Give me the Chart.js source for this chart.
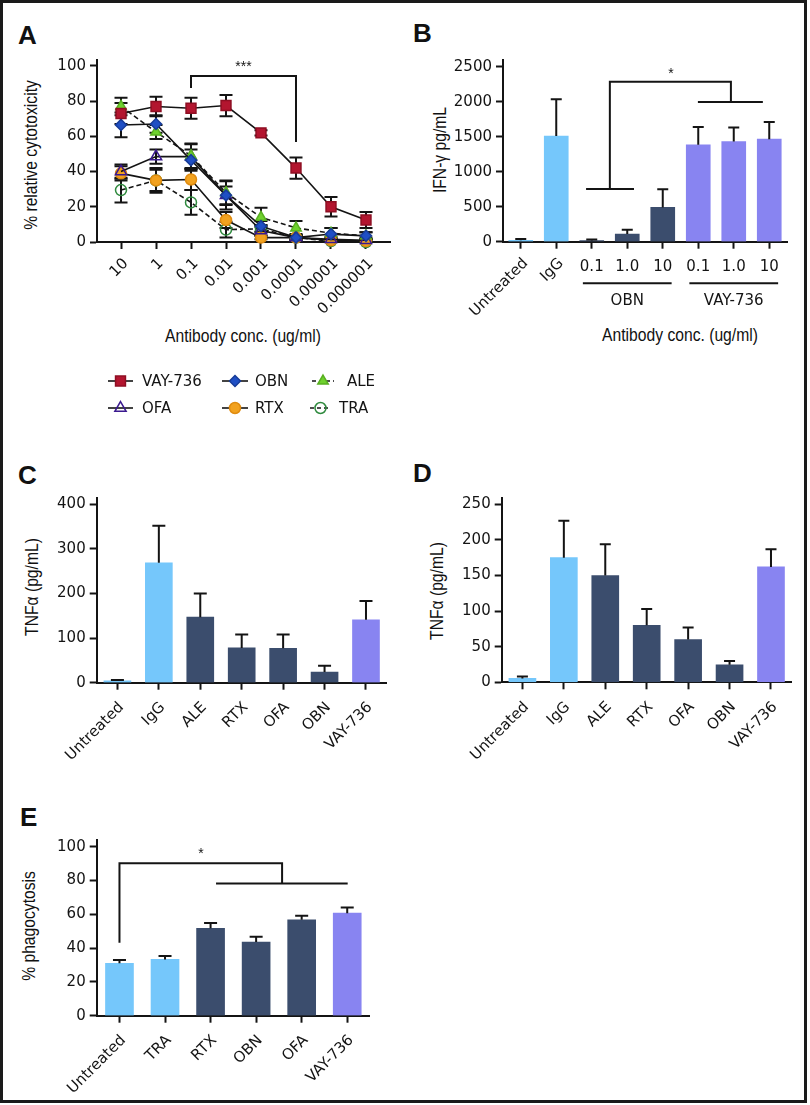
<!DOCTYPE html>
<html>
<head>
<meta charset="utf-8">
<script src="https://cdn.jsdelivr.net/npm/chart.js@4.4.0/dist/chart.umd.min.js"></script>
<style>
  html, body { margin: 0; padding: 0; background: #fff; }
  #page { position: relative; width: 810px; height: 1105px; overflow: hidden; background: #fff; }
  #frame { position: absolute; left: 0; top: 0; width: 801px; height: 1097px; border: 3px solid #1a1a1a; }
  canvas { position: absolute; left: 0; top: 0; }
  .letter { position: absolute; font: bold 26px Arial, "Liberation Sans", sans-serif; line-height: 26px; color: #111; }
  .title { position: absolute; font: 18px Arial, "Liberation Sans", sans-serif; line-height: 20px; white-space: nowrap; color: #111; }
  .xt { transform: translate(-50%, -50%) scaleX(0.87); }
  .yt { transform: translate(-50%, -50%) rotate(-90deg) scaleX(0.87); }
</style>
</head>
<body>
<div id="page">
  <div id="frame"></div>

  <div class="letter" style="left:18px;top:22px">A</div>
  <div class="letter" style="left:413px;top:20px">B</div>
  <div class="letter" style="left:18px;top:462px">C</div>
  <div class="letter" style="left:413px;top:460px">D</div>
  <div class="letter" style="left:20px;top:804px">E</div>

  <div class="title yt" style="left:31px;top:155px">% relative cytotoxicity</div>
  <div class="title xt" style="left:243px;top:336px">Antibody conc. (ug/ml)</div>
  <div class="title yt" style="left:440px;top:150px">IFN-γ pg/mL</div>
  <div class="title xt" style="left:680px;top:335px">Antibody conc. (ug/ml)</div>
  <div class="title yt" style="left:32px;top:587px">TNFα (pg/mL)</div>
  <div class="title yt" style="left:437px;top:591px">TNFα (pg/mL)</div>
  <div class="title yt" style="left:29px;top:926px">% phagocytosis</div>
</div>

<script>
// ---- panel A: cytotoxicity vs antibody concentration ----
const concLabels = ['10', '1', '0.1', '0.01', '0.001', '0.0001', '0.00001', '0.000001'];
const cytoTicks = [0, 20, 40, 60, 80, 100];
const vay736 = [73, 77, 76, 77.5, 62, 42, 20, 12.5];
const vay736Err = [6, 5.5, 6, 6, 1.5, 6, 5.5, 4.5];
const obn = [66.5, 67, 46.5, 26.5, 9, 2.5, 4.5, 3.5];
const obnErr = [7, 5, 6, 5, 3, 2, 3.5, 2];
const ale = [77, 62.5, 49, 28, 14, 8, 5, 3.5];
const aleErr = [5, 4, 7, 7, 5.5, 4, 3, 2];
const ofa = [40, 48.5, 48.5, 26.5, 6.5, 2.5, 1.5, 1];
const ofaErr = [4, 4, 7, 8, 3, 1.5, 1.5, 1.5];
const rtx = [39, 35, 35.5, 12.5, 2.5, 2.5, 1, 0.5];
const rtxErr = [4, 6, 6, 4.5, 1, 1, 1, 1];
const tra = [29.5, 35, 22.5, 7, 7.5, 2.5, 0.5, 0];
const traErr = [7, 7, 7, 4.5, 2, 1, 1, 1];

// ---- panel B: IFN-gamma ----
const ifnLabels = ['Untreated', 'IgG', '0.1', '1.0', '10', '0.1', '1.0', '10'];
const ifnTicks = [0, 500, 1000, 1500, 2000, 2500];
const ifnValues = [20, 1510, 15, 110, 490, 1385, 1430, 1465];
const ifnErrors = [20, 525, 15, 60, 260, 255, 200, 245];
const ifnGroups = [
    { name: 'OBN', first: 2, last: 4 },
    { name: 'VAY-736', first: 5, last: 7 }
];

// ---- panels C and D: TNF-alpha ----
const tnfLabels = ['Untreated', 'IgG', 'ALE', 'RTX', 'OFA', 'OBN', 'VAY-736'];
const tnfCTicks = [0, 100, 200, 300, 400];
const tnfC = [4, 269, 147, 78, 77, 24, 141];
const tnfCErr = [2, 83, 53, 30, 31, 14, 42];
const tnfDTicks = [0, 50, 100, 150, 200, 250];
const tnfD = [5.5, 175, 150, 80, 60, 24.5, 162];
const tnfDErr = [2.5, 52, 44, 23, 17, 5.5, 25];

// ---- panel E: phagocytosis ----
const phagoLabels = ['Untreated', 'TRA', 'RTX', 'OBN', 'OFA', 'VAY-736'];
const phagoTicks = [0, 20, 40, 60, 80, 100];
const phago = [31, 33.3, 51.7, 43.6, 56.8, 60.7];
const phagoErr = [2, 2, 3.2, 3.2, 2.4, 3.4];

// colours
const INK = '#141414';
const LIGHT = '#75c7fb';
const NAVY = '#3b4d6d';
const PURPLE = '#8884f1';

const PAGE_W = 810, PAGE_H = 1105, XH = 80;

Chart.defaults.font.family = "'DejaVu Sans', sans-serif";
Chart.defaults.font.size = 15;
Chart.defaults.color = INK;

function makeCanvas() {
    const c = document.createElement('canvas');
    c.width = PAGE_W;
    c.height = PAGE_H;
    document.getElementById('page').appendChild(c);
    return c;
}

// place the plot area exactly where it sits in the figure
function layoutFor(area) {
    return {
        autoPadding: false,
        padding: { left: 0, top: area.top, right: PAGE_W - area.right, bottom: PAGE_H - area.bottom - XH }
    };
}

function yAxis(area, max, tickValues) {
    return {
        type: 'linear', min: 0, max: max,
        afterFit: s => { s.width = area.left; },
        afterBuildTicks: s => { s.ticks = tickValues.map(v => ({ value: v })); },
        border: { display: true, color: INK, width: 2 },
        grid: { display: true, drawOnChartArea: false, drawTicks: true, tickLength: 7, tickWidth: 2, tickColor: INK },
        ticks: { padding: 4, color: INK, callback: v => String(v) }
    };
}

function xCategory() {
    return {
        type: 'category', offset: true,
        afterFit: s => { s.height = XH; },
        border: { display: true, color: INK, width: 2 },
        grid: { display: true, offset: false, drawOnChartArea: false, drawTicks: true, tickLength: 7, tickWidth: 2, tickColor: INK },
        ticks: { minRotation: 45, maxRotation: 45, autoSkip: false, padding: 9, labelOffset: 4, color: INK }
    };
}

function baseOptions(area) {
    return {
        responsive: false, animation: false, devicePixelRatio: 1,
        layout: layoutFor(area),
        plugins: { legend: { display: false }, tooltip: { enabled: false } }
    };
}

// vertical error bars, read from dataset.errors
function errorBars(cfg) {
    function draw(chart) {
        const ctx = chart.ctx, y = chart.scales.y;
        chart.data.datasets.forEach((ds, di) => {
            if (!ds.errors) return;
            const meta = chart.getDatasetMeta(di);
            meta.data.forEach((el, i) => {
                const v = meta._parsed[i].y, e = ds.errors[i];
                const yTop = y.getPixelForValue(v + e);
                const yBot = cfg.both ? y.getPixelForValue(Math.max(0, v - e)) : el.y;
                ctx.save();
                ctx.strokeStyle = INK;
                ctx.lineWidth = cfg.width;
                ctx.beginPath();
                ctx.moveTo(el.x, yTop); ctx.lineTo(el.x, yBot);
                ctx.moveTo(el.x - cfg.cap, yTop); ctx.lineTo(el.x + cfg.cap, yTop);
                if (cfg.both) { ctx.moveTo(el.x - cfg.cap, yBot); ctx.lineTo(el.x + cfg.cap, yBot); }
                ctx.stroke();
                ctx.restore();
            });
        });
    }
    return {
        id: 'errorBars',
        beforeDatasetsDraw(chart) { if (cfg.under) draw(chart); },
        afterDatasetsDraw(chart) { if (!cfg.under) draw(chart); }
    };
}

// significance brackets, in data units
function brackets(lines, star) {
    return {
        id: 'brackets',
        afterDatasetsDraw(chart) {
            const { ctx, scales: { x, y } } = chart;
            ctx.save();
            ctx.strokeStyle = INK;
            ctx.lineWidth = 2;
            lines.forEach(line => {
                ctx.beginPath();
                line.forEach(([a, b], k) => {
                    const px = x.getPixelForValue(a), py = y.getPixelForValue(b);
                    if (k === 0) ctx.moveTo(px, py); else ctx.lineTo(px, py);
                });
                ctx.stroke();
            });
            ctx.fillStyle = INK;
            ctx.font = '14px Arial';
            ctx.textAlign = 'center';
            ctx.textBaseline = 'middle';
            ctx.fillText(star.text, x.getPixelForValue(star.x), y.getPixelForValue(star.y));
            ctx.restore();
        }
    };
}

function drawMarker(ctx, style, r, x, y) {
    ctx.beginPath();
    if (style === 'rect') {
        const s = r * Math.SQRT1_2;
        ctx.rect(x - s, y - s, 2 * s, 2 * s);
    } else if (style === 'rectRot') {
        ctx.moveTo(x - r, y); ctx.lineTo(x, y - r); ctx.lineTo(x + r, y); ctx.lineTo(x, y + r); ctx.closePath();
    } else if (style === 'triangle') {
        for (let k = 0; k < 3; k++) {
            const a = k * 2 * Math.PI / 3;
            const px = x + Math.sin(a) * r, py = y - Math.cos(a) * r;
            if (k === 0) ctx.moveTo(px, py); else ctx.lineTo(px, py);
        }
        ctx.closePath();
    } else {
        ctx.arc(x, y, r, 0, Math.PI * 2);
    }
    ctx.fill();
    ctx.stroke();
}

// ================= Panel A =================
const seriesA = [
    { name: 'VAY-736', values: vay736, errors: vay736Err },
    { name: 'OBN', values: obn, errors: obnErr },
    { name: 'ALE', values: ale, errors: aleErr },
    { name: 'OFA', values: ofa, errors: ofaErr },
    { name: 'RTX', values: rtx, errors: rtxErr },
    { name: 'TRA', values: tra, errors: traErr }
];
const markerStyles = {
    'VAY-736': { style: 'rect', r: 7, fill: '#b3152f', stroke: '#8e0e22', dash: [] },
    'OBN': { style: 'rectRot', r: 5.5, fill: '#1f4fc4', stroke: '#173c99', dash: [] },
    'ALE': { style: 'triangle', r: 6, fill: '#6fd12e', stroke: '#58b020', dash: [5, 3] },
    'OFA': { style: 'triangle', r: 6.5, fill: 'rgba(255,255,255,0)', stroke: '#3b1a8f', dash: [] },
    'RTX': { style: 'circle', r: 5.5, fill: '#f2a21f', stroke: '#e08c10', dash: [] },
    'TRA': { style: 'circle', r: 5.5, fill: 'rgba(255,255,255,0)', stroke: '#2f8a3e', dash: [5, 3] }
};
const legendSlots = {
    'VAY-736': { lineX: 108, lineW: 25, textX: 142, rowY: 381 },
    'OBN': { lineX: 222, lineW: 26, textX: 255, rowY: 381 },
    'ALE': { lineX: 312, lineW: 22, textX: 347, rowY: 381 },
    'OFA': { lineX: 108, lineW: 25, textX: 142, rowY: 408 },
    'RTX': { lineX: 222, lineW: 26, textX: 255, rowY: 408 },
    'TRA': { lineX: 310, lineW: 21, textX: 339, rowY: 408 }
};

const legendA = {
    id: 'legendA',
    afterDraw(chart) {
        const ctx = chart.ctx;
        ctx.save();
        seriesA.forEach(s => {
            const st = markerStyles[s.name], slot = legendSlots[s.name];
            ctx.strokeStyle = INK;
            ctx.lineWidth = 1.6;
            ctx.setLineDash(st.dash.length ? [4, 3] : []);
            ctx.beginPath();
            ctx.moveTo(slot.lineX, slot.rowY);
            ctx.lineTo(slot.lineX + slot.lineW, slot.rowY);
            ctx.stroke();
            ctx.setLineDash([]);
            ctx.fillStyle = st.fill;
            ctx.strokeStyle = st.stroke;
            ctx.lineWidth = 1.5;
            drawMarker(ctx, st.style, st.r, slot.lineX + slot.lineW / 2, slot.rowY);
            ctx.fillStyle = INK;
            ctx.font = "15px 'DejaVu Sans'";
            ctx.textAlign = 'left';
            ctx.textBaseline = 'middle';
            ctx.fillText(s.name, slot.textX, slot.rowY + 1);
        });
        ctx.restore();
    }
};

const areaA = { left: 97, right: 390, top: 59.8, bottom: 242 };
const optsA = baseOptions(areaA);
optsA.scales = {
    x: {
        type: 'linear', min: -0.686, max: 7.686,
        afterFit: s => { s.height = XH; },
        afterBuildTicks: s => { s.ticks = concLabels.map((_, i) => ({ value: i })); },
        border: { display: true, color: INK, width: 2 },
        grid: { display: true, drawOnChartArea: false, drawTicks: true, tickLength: 7, tickWidth: 2, tickColor: INK },
        ticks: {
            autoSkip: false, minRotation: 45, maxRotation: 45, padding: 6, labelOffset: 5, color: INK,
            callback: v => concLabels[v] !== undefined ? concLabels[v] : ''
        }
    },
    y: yAxis(areaA, 103.5, cytoTicks)
};
new Chart(makeCanvas(), {
    type: 'line',
    data: {
        datasets: seriesA.map(s => {
            const st = markerStyles[s.name];
            return {
                label: s.name,
                data: s.values.map((v, i) => ({ x: i, y: v })),
                errors: s.errors,
                borderColor: INK, borderWidth: 1.6, borderDash: st.dash, tension: 0, fill: false, clip: false,
                pointStyle: st.style, pointRadius: st.r, pointHoverRadius: st.r,
                pointBackgroundColor: st.fill, pointBorderColor: st.stroke, pointBorderWidth: 1.5
            };
        })
    },
    options: optsA,
    plugins: [
        errorBars({ both: true, cap: 6.5, width: 2, under: true }),
        brackets([[[2, 87.5], [2, 94.3], [5, 94.3], [5, 56.8]]], { text: '***', x: 3.5, y: 99.4 }),
        legendA
    ]
});

// ================= Panel B =================
const colorsB = [LIGHT, LIGHT, NAVY, NAVY, NAVY, PURPLE, PURPLE, PURPLE];
const areaB = { left: 503, right: 787, top: 60, bottom: 241.7 };
const optsB = baseOptions(areaB);
const xB = xCategory();
xB.ticks.callback = () => '';
optsB.scales = { x: xB, y: yAxis(areaB, 2596, ifnTicks) };

const labelsB = {
    id: 'labelsB',
    afterDraw(chart) {
        const { ctx, scales: { x }, chartArea } = chart;
        const base = chartArea.bottom;
        const grouped = i => ifnGroups.some(g => i >= g.first && i <= g.last);
        ctx.save();
        ctx.fillStyle = INK;
        ctx.strokeStyle = INK;
        ctx.font = "15px 'DejaVu Sans'";
        ifnLabels.forEach((lab, i) => {
            const px = x.getPixelForValue(i);
            if (!grouped(i)) {
                ctx.save();
                ctx.translate(px - 6.4 + 5, base + 7 + 6);
                ctx.rotate(-Math.PI / 4);
                ctx.textAlign = 'right';
                ctx.textBaseline = 'middle';
                ctx.fillText(lab, 0, 9);
                ctx.restore();
            } else {
                ctx.textAlign = 'center';
                ctx.textBaseline = 'middle';
                ctx.fillText(lab, px, base + 25.5);
            }
        });
        ctx.lineWidth = 2;
        ifnGroups.forEach(g => {
            const x1 = x.getPixelForValue(g.first - 0.25), x2 = x.getPixelForValue(g.last + 0.25);
            ctx.beginPath();
            ctx.moveTo(x1, base + 41.5);
            ctx.lineTo(x2, base + 41.5);
            ctx.stroke();
            ctx.textAlign = 'center';
            ctx.textBaseline = 'middle';
            ctx.fillText(g.name, (x1 + x2) / 2, base + 59);
        });
        ctx.restore();
    }
};

new Chart(makeCanvas(), {
    type: 'bar',
    data: {
        labels: ifnLabels,
        datasets: [{ data: ifnValues, errors: ifnErrors, backgroundColor: colorsB, borderWidth: 0, barThickness: 24 }]
    },
    options: optsB,
    plugins: [
        errorBars({ both: false, cap: 5.5, width: 2 }),
        brackets([
            [[2.51, 753], [2.51, 2286], [5.92, 2286], [5.92, 1996]],
            [[1.84, 753], [3.19, 753]],
            [[4.99, 1996], [6.82, 1996]]
        ], { text: '*', x: 4.23, y: 2396 }),
        labelsB
    ]
});

// ================= Panels C and D =================
const colorsTnf = [LIGHT, LIGHT, NAVY, NAVY, NAVY, NAVY, PURPLE];

function tnfChart(area, values, errors, max, tickValues, cap) {
    const opts = baseOptions(area);
    opts.scales = { x: xCategory(), y: yAxis(area, max, tickValues) };
    new Chart(makeCanvas(), {
        type: 'bar',
        data: {
            labels: tnfLabels,
            datasets: [{ data: values, errors: errors, backgroundColor: colorsTnf, borderWidth: 0, barThickness: 27 }]
        },
        options: opts,
        plugins: [errorBars({ both: false, cap: cap, width: 2 })]
    });
}
tnfChart({ left: 96.7, right: 386.7, top: 498.3, bottom: 682.7 }, tnfC, tnfCErr, 413.4, tnfCTicks, 6.5);
tnfChart({ left: 501.7, right: 791.7, top: 498.3, bottom: 682.3 }, tnfD, tnfDErr, 258.4, tnfDTicks, 5.5);

// ================= Panel E =================
const colorsE = [LIGHT, LIGHT, NAVY, NAVY, NAVY, PURPLE];
const areaE = { left: 96.7, right: 370, top: 840, bottom: 1015.7 };
const optsE = baseOptions(areaE);
optsE.scales = { x: xCategory(), y: yAxis(areaE, 104, phagoTicks) };
new Chart(makeCanvas(), {
    type: 'bar',
    data: {
        labels: phagoLabels,
        datasets: [{ data: phago, errors: phagoErr, backgroundColor: colorsE, borderWidth: 0, barThickness: 28 }]
    },
    options: optsE,
    plugins: [
        errorBars({ both: false, cap: 6.5, width: 2 }),
        brackets([
            [[0, 43.2], [0, 90.2], [3.57, 90.2], [3.57, 78.3]],
            [[2.12, 78.3], [5.01, 78.3]]
        ], { text: '*', x: 1.79, y: 95.5 })
    ]
});
</script>
</body>
</html>
